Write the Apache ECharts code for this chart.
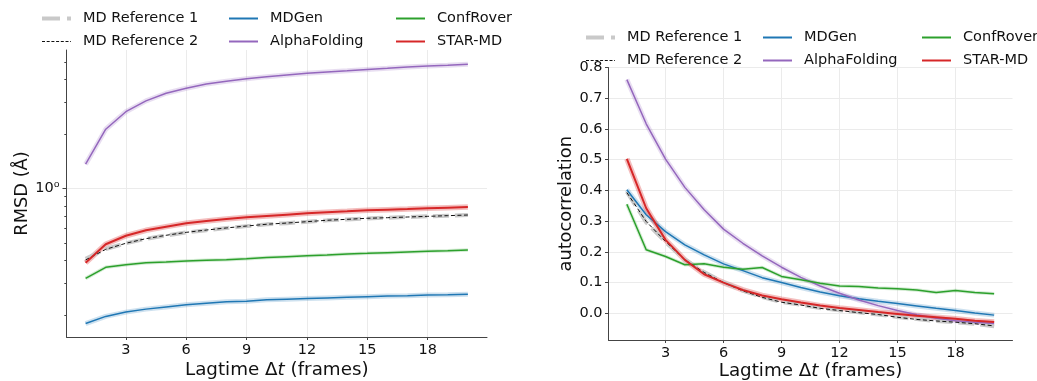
<!DOCTYPE html>
<html>
<head>
<meta charset="utf-8">
<script src="https://cdn.jsdelivr.net/npm/echarts@6/dist/echarts.min.js"></script>
<style>
html,body{margin:0;padding:0;background:#fff;}
#chart{width:1037px;height:381px;}
</style>
</head>
<body>
<div id="chart"></div>
<script>
// ---- data ----
const lagtime = [1,2,3,4,5,6,7,8,9,10,11,12,13,14,15,16,17,18,19,20];
const lagTicks = [3,6,9,12,15,18];

const rmsdMajorTicks = [1];
const rmsdMinorTicks = [0.2,0.3,0.4,0.5,0.6,0.7,0.8,0.9,2,3,4,5];
const acTicks = [0,0.1,0.2,0.3,0.4,0.5,0.6,0.7,0.8];

const rmsdRef1 = [0.408,0.462,0.497,0.526,0.549,0.570,0.587,0.603,0.618,0.632,0.642,0.653,0.665,0.673,0.682,0.688,0.694,0.700,0.706,0.712];
const rmsdRef2 = [0.402,0.460,0.497,0.527,0.550,0.571,0.588,0.604,0.619,0.633,0.643,0.654,0.666,0.674,0.683,0.688,0.694,0.700,0.706,0.712];
const rmsdMDGen = [0.179,0.196,0.207,0.215,0.221,0.227,0.232,0.236,0.238,0.242,0.244,0.246,0.248,0.250,0.252,0.254,0.255,0.257,0.258,0.260];
const rmsdAlpha = [1.36,2.12,2.65,3.04,3.35,3.57,3.77,3.90,4.03,4.14,4.23,4.32,4.39,4.46,4.54,4.60,4.68,4.74,4.78,4.84];
const rmsdConf = [0.318,0.366,0.378,0.388,0.392,0.397,0.400,0.403,0.408,0.414,0.419,0.424,0.428,0.434,0.437,0.441,0.445,0.449,0.452,0.456];
const rmsdStar = [0.388,0.491,0.547,0.586,0.614,0.641,0.660,0.677,0.691,0.703,0.715,0.727,0.737,0.746,0.756,0.762,0.768,0.775,0.782,0.788];

const acRef1 = [0.395,0.296,0.232,0.175,0.134,0.101,0.074,0.053,0.037,0.028,0.017,0.010,0.003,-0.004,-0.012,-0.019,-0.025,-0.029,-0.034,-0.042];
const acRef2 = [0.393,0.299,0.234,0.174,0.133,0.100,0.073,0.052,0.036,0.027,0.016,0.009,0.002,-0.004,-0.013,-0.020,-0.025,-0.029,-0.034,-0.041];
const acMDGen = [0.402,0.321,0.266,0.223,0.190,0.161,0.139,0.116,0.100,0.084,0.069,0.057,0.047,0.039,0.032,0.024,0.016,0.009,0.001,-0.006];
const acAlpha = [0.761,0.617,0.502,0.410,0.337,0.274,0.228,0.187,0.150,0.117,0.089,0.065,0.043,0.025,0.009,-0.005,-0.016,-0.024,-0.029,-0.033];
const acConf = [0.355,0.207,0.185,0.158,0.161,0.150,0.143,0.149,0.120,0.109,0.098,0.089,0.087,0.082,0.080,0.076,0.068,0.074,0.068,0.064];
const acStar = [0.503,0.342,0.239,0.174,0.127,0.100,0.076,0.058,0.046,0.035,0.025,0.017,0.011,0.004,-0.002,-0.008,-0.013,-0.018,-0.024,-0.028];

// ---- styling ----
const FONT = 'DejaVu Sans';
const C = {
  ref1: '#c9c9c9', ref2: '#111111',
  mdgen: '#1f77b4', alpha: '#9467bd', conf: '#2ca02c', star: '#d62728'
};
const pts = vals => lagtime.map((x, i) => [x, vals[i]]);

function band(name, vals, color, xi, yi, w, op) {
  return { name: name + ' band', type: 'line', xAxisIndex: xi, yAxisIndex: yi, data: pts(vals),
    symbol: 'none', silent: true, lineStyle: { color: color, width: w, opacity: op }, z: 2 };
}
function line(name, vals, color, xi, yi, extra) {
  return Object.assign({ name: name, type: 'line', xAxisIndex: xi, yAxisIndex: yi, data: pts(vals),
    symbol: 'none', color: color, lineStyle: { color: color, width: 1.5 }, z: 3 }, extra || {});
}
function seriesSet(xi, yi, d) {
  return [
    line('MD Reference 1', d.ref1, C.ref1, xi, yi, { lineStyle: { color: C.ref1, width: 4, type: [16, 6] } }),
    line('MD Reference 2', d.ref2, C.ref2, xi, yi, { lineStyle: { color: C.ref2, width: 1, type: [4, 2.5] }, z: 4 }),
    band('MDGen', d.mdgen, C.mdgen, xi, yi, 5, 0.22),
    line('MDGen', d.mdgen, C.mdgen, xi, yi),
    band('AlphaFolding', d.alpha, C.alpha, xi, yi, 5, 0.22),
    line('AlphaFolding', d.alpha, C.alpha, xi, yi),
    band('ConfRover', d.conf, C.conf, xi, yi, 3.5, 0.2),
    line('ConfRover', d.conf, C.conf, xi, yi),
    band('STAR-MD', d.star, C.star, xi, yi, 5.5, 0.3),
    line('STAR-MD', d.star, C.star, xi, yi, { lineStyle: { color: C.star, width: 2 }, z: 5 })
  ];
}

const axisLineStyle = { color: '#444', width: 1 };
const gridLineStyle = { color: '#ebebeb', width: 1 };
const tickLabel = { fontFamily: FONT, fontSize: 14.5, color: '#111' };
const xName = '{a|Lagtime Δ}{b|t}{a| (frames)}';
const xNameStyle = { fontFamily: FONT, fontSize: 18.3, color: '#111', lineHeight: 20,
  rich: { a: { fontFamily: FONT, fontSize: 18.3, color: '#111', lineHeight: 20 }, b: { fontFamily: FONT, fontSize: 18.3, fontStyle: 'italic', color: '#111', lineHeight: 20 } } };
const yNameStyle = { fontFamily: FONT, fontSize: 17.8, color: '#111' };

function xAxisDef(gi, gap) {
  return {
    type: 'value', gridIndex: gi, min: 0.05, max: 20.95,
    name: xName, nameLocation: 'middle', nameGap: gap, nameMoveOverlap: false, nameTextStyle: xNameStyle,
    axisLine: { show: true, onZero: false, lineStyle: axisLineStyle },
    axisTick: { show: true, length: 3, customValues: lagTicks, lineStyle: axisLineStyle },
    axisLabel: { customValues: lagTicks, margin: 6, ...tickLabel },
    splitLine: { show: true, lineStyle: gridLineStyle }
  };
}

function legendCol(left, top, names) {
  const data = names.map(n => {
    if (n === 'MD Reference 1') return { name: n, lineStyle: { color: C.ref1, width: 4, type: [18, 7] } };
    if (n === 'MD Reference 2') return { name: n, lineStyle: { color: C.ref2, width: 1, type: [3, 1.7] } };
    return { name: n };
  });
  return {
    orient: 'vertical', left: left, top: top, padding: 0, itemGap: 8,
    itemWidth: 29, itemHeight: 14, data: data, selectedMode: false,
    itemStyle: { opacity: 0 },
    textStyle: { fontFamily: FONT, fontSize: 14.5, color: '#111', lineHeight: 14, padding: [0, 0, 0, 7] }
  };
}

const option = {
  animation: false,
  backgroundColor: '#fff',
  legend: [
    legendCol(40, 11, ['MD Reference 1', 'MD Reference 2']),
    legendCol(228, 11, ['MDGen', 'AlphaFolding']),
    legendCol(395, 11, ['ConfRover', 'STAR-MD']),
    legendCol(584, 30, ['MD Reference 1', 'MD Reference 2']),
    legendCol(762, 30, ['MDGen', 'AlphaFolding']),
    legendCol(921, 30, ['ConfRover', 'STAR-MD'])
  ],
  grid: [
    { left: 66.5, top: 50, width: 420.5, height: 287, outerBoundsMode: 'none', containLabel: false },
    { left: 608.5, top: 67.6, width: 404, height: 272.4, outerBoundsMode: 'none', containLabel: false }
  ],
  xAxis: [xAxisDef(0, 23), xAxisDef(1, 21)],
  yAxis: [
    {
      type: 'log', gridIndex: 0, position: 'left', min: 0.1508, max: 5.81, logBase: 10,
      name: 'RMSD (Å)', nameLocation: 'middle', nameGap: 35, nameRotate: 90,
      nameTextStyle: yNameStyle,
      axisLine: { show: true, onZero: false, lineStyle: axisLineStyle },
      axisTick: { show: true, length: 4, customValues: rmsdMajorTicks, lineStyle: axisLineStyle },
      axisLabel: { customValues: rmsdMajorTicks, margin: 7, ...tickLabel,
        formatter: v => (Math.abs(v - 1) < 1e-6 ? '10⁰' : '') },
      splitLine: { show: true, lineStyle: gridLineStyle }
    },
    {
      type: 'log', gridIndex: 0, position: 'left', min: 0.1508, max: 5.81, logBase: 10,
      axisLine: { show: false, onZero: false },
      axisTick: { show: true, length: 2.2, customValues: rmsdMinorTicks, lineStyle: axisLineStyle },
      axisLabel: { show: false },
      splitLine: { show: false }
    },
    {
      type: 'value', gridIndex: 1, position: 'left', min: -0.087, max: 0.8,
      name: 'autocorrelation', nameLocation: 'middle', nameGap: 32, nameRotate: 90,
      nameTextStyle: yNameStyle,
      axisLine: { show: true, onZero: false, lineStyle: axisLineStyle },
      axisTick: { show: true, length: 3.5, customValues: acTicks, lineStyle: axisLineStyle },
      axisLabel: { customValues: acTicks, margin: 6, ...tickLabel, formatter: v => v.toFixed(1) },
      splitLine: { show: true, lineStyle: gridLineStyle }
    }
  ],
  series: [].concat(
    seriesSet(0, 0, { ref1: rmsdRef1, ref2: rmsdRef2, mdgen: rmsdMDGen, alpha: rmsdAlpha, conf: rmsdConf, star: rmsdStar }),
    seriesSet(1, 2, { ref1: acRef1, ref2: acRef2, mdgen: acMDGen, alpha: acAlpha, conf: acConf, star: acStar })
  )
};

const chart = echarts.init(document.getElementById('chart'), null, { renderer: 'canvas' });
chart.setOption(option);
</script>
</body>
</html>
